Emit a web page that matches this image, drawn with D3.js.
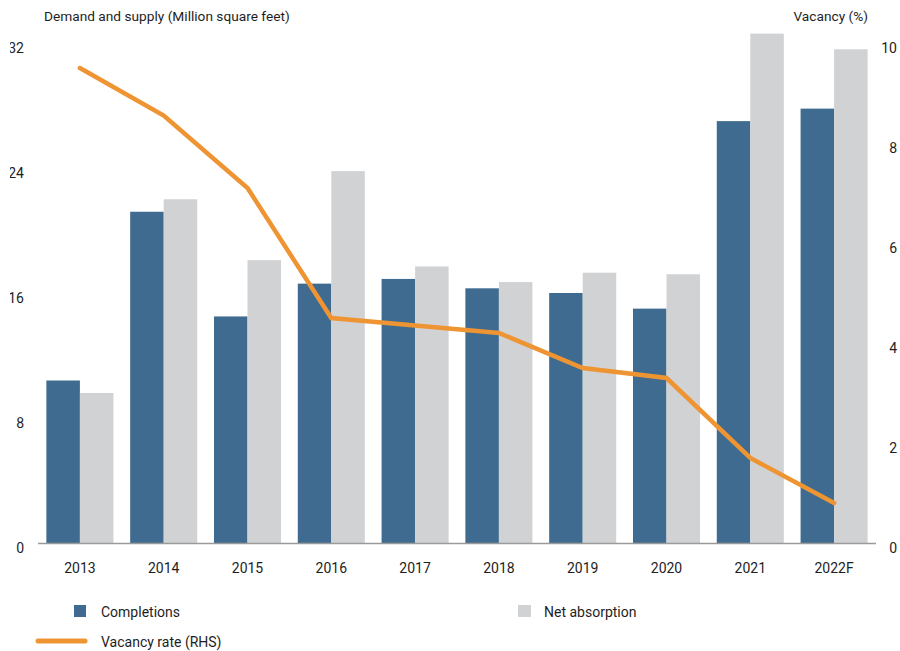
<!DOCTYPE html>
<html>
<head>
<meta charset="utf-8">
<script src="https://cdn.jsdelivr.net/npm/d3@7"></script>
<style>
  html, body { margin: 0; padding: 0; background: #fff; }
  svg { display: block; font-family: Roboto, "Noto Sans", sans-serif; }
</style>
</head>
<body>
<svg id="chart" width="900" height="651"></svg>
<script>
// Office market: demand, supply and vacancy by year
const years = ["2013", "2014", "2015", "2016", "2017", "2018", "2019", "2020", "2021", "2022F"];
const completions = [10.4, 21.2, 14.5, 16.6, 16.9, 16.3, 16.0, 15.0, 27.0, 27.8];
const netAbsorption = [9.6, 22.0, 18.1, 23.8, 17.7, 16.7, 17.3, 17.2, 32.6, 31.6];
const vacancyRate = [9.5, 8.55, 7.1, 4.5, 4.35, 4.2, 3.5, 3.3, 1.7, 0.8];
const leftTicks = [0, 8, 16, 24, 32];
const rightTicks = [0, 2, 4, 6, 8, 10];

const colors = { completions: "#3e6b8f", net: "#d1d2d4", vacancy: "#ee9433", text: "#1e1e1e" };

const svg = d3.select("#chart");
const plot = { left: 38, right: 876, top: 43, bottom: 543 };

const x = d3.scaleBand().domain(years).range([plot.left, plot.right])
  .paddingInner(0.2).paddingOuter(0.1);
const xSeries = d3.scaleBand().domain(["completions", "net"]).range([0, x.bandwidth()]);
const yLeft = d3.scaleLinear().domain([0, 32]).range([plot.bottom, plot.top]);
const yRight = d3.scaleLinear().domain([0, 10]).range([plot.bottom, plot.top]);

const rows = years.map((yr, i) => ({
  year: yr, completions: completions[i], net: netAbsorption[i], vacancy: vacancyRate[i]
}));

// Bars
const groups = svg.append("g").selectAll("g").data(rows).join("g")
  .attr("transform", d => `translate(${x(d.year)},0)`);
groups.selectAll("rect")
  .data(d => [{ key: "completions", v: d.completions }, { key: "net", v: d.net }])
  .join("rect")
  .attr("x", d => xSeries(d.key))
  .attr("width", xSeries.bandwidth())
  .attr("y", d => yLeft(d.v))
  .attr("height", d => yLeft(0) - yLeft(d.v))
  .attr("fill", d => colors[d.key]);

// Baseline
svg.append("line")
  .attr("x1", plot.left).attr("x2", plot.right)
  .attr("y1", plot.bottom + 0.5).attr("y2", plot.bottom + 0.5)
  .attr("stroke", "#9a9a9a").attr("stroke-width", 1.5);

// Vacancy line
const line = d3.line()
  .x(d => x(d.year) + x.bandwidth() / 2)
  .y(d => yRight(d.vacancy));
svg.append("path").datum(rows)
  .attr("d", line)
  .attr("fill", "none")
  .attr("stroke", colors.vacancy)
  .attr("stroke-width", 4.5)
  .attr("stroke-linecap", "round")
  .attr("stroke-linejoin", "miter");

// Left axis (labels trimmed at the left edge)
svg.append("clipPath").attr("id", "leftClip")
  .append("rect").attr("x", 10).attr("y", 0).attr("width", 40).attr("height", 651);
const leftAxis = d3.axisLeft(yLeft).tickValues(leftTicks).tickSize(0).tickPadding(0);
svg.append("g")
  .attr("clip-path", "url(#leftClip)")
  .append("g")
  .attr("transform", "translate(24,5)")
  .call(leftAxis)
  .call(g => g.select(".domain").remove())
  .call(g => g.selectAll("text").attr("font-size", 14).attr("fill", colors.text)
    .attr("font-family", "Roboto, sans-serif"));

// Right axis
const rightAxis = d3.axisRight(yRight).tickValues(rightTicks).tickSize(0).tickPadding(0);
svg.append("g")
  .attr("transform", "translate(897,5)")
  .call(rightAxis)
  .call(g => g.select(".domain").remove())
  .call(g => g.selectAll("text").attr("font-size", 14).attr("fill", colors.text)
    .attr("text-anchor", "end").attr("font-family", "Roboto, sans-serif"));

// Category axis
const bottomAxis = d3.axisBottom(x).tickSize(0).tickPadding(0);
svg.append("g")
  .attr("transform", `translate(0,${plot.bottom + 20})`)
  .call(bottomAxis)
  .call(g => g.select(".domain").remove())
  .call(g => g.selectAll("text").attr("font-size", 14).attr("fill", colors.text)
    .attr("font-family", "Roboto, sans-serif"));

// Axis titles
svg.append("text").attr("x", 44).attr("y", 21)
  .attr("font-size", 13.7).attr("fill", colors.text)
  .text("Demand and supply (Million square feet)");
svg.append("text").attr("x", 868).attr("y", 21)
  .attr("text-anchor", "end")
  .attr("font-size", 13.7).attr("fill", colors.text)
  .text("Vacancy (%)");

// Legend
const legend = svg.append("g").attr("font-size", 14).attr("fill", colors.text);
legend.append("rect").attr("x", 74).attr("y", 605).attr("width", 12).attr("height", 12)
  .attr("fill", colors.completions);
legend.append("text").attr("x", 101).attr("y", 616.5).text("Completions");
legend.append("rect").attr("x", 518).attr("y", 605).attr("width", 13).attr("height", 12)
  .attr("fill", colors.net);
legend.append("text").attr("x", 544).attr("y", 616.5).text("Net absorption");
legend.append("line").attr("x1", 38).attr("x2", 85).attr("y1", 641).attr("y2", 641)
  .attr("stroke", colors.vacancy).attr("stroke-width", 5).attr("stroke-linecap", "round");
legend.append("text").attr("x", 101).attr("y", 646.5).text("Vacancy rate (RHS)");
</script>
</body>
</html>
